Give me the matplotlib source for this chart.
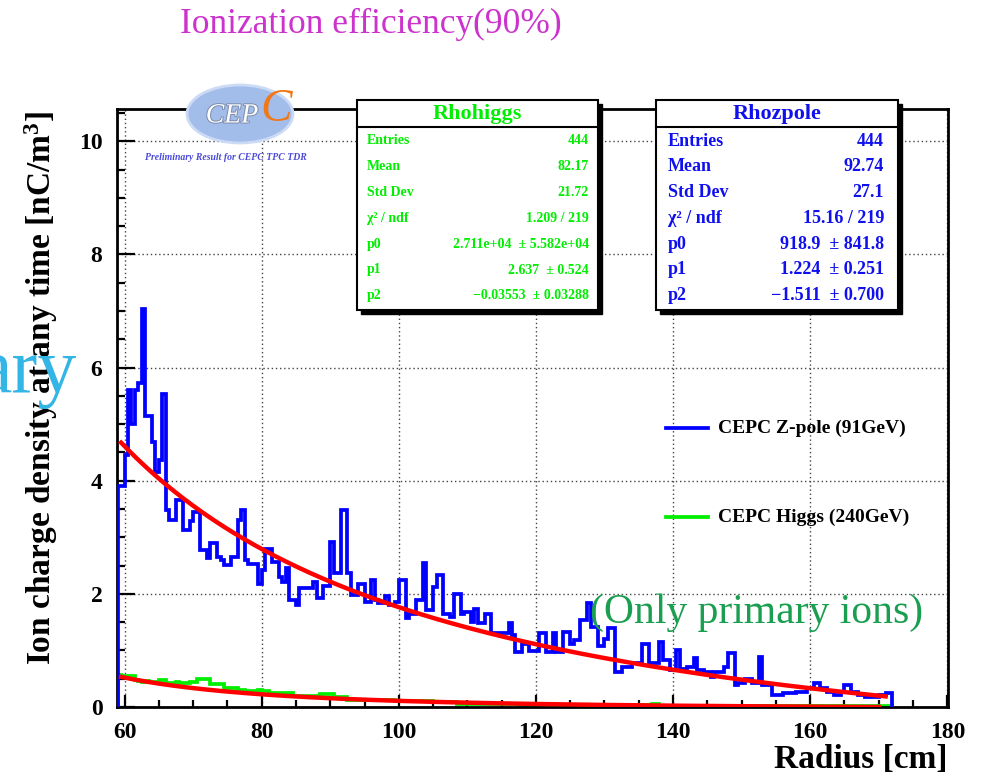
import matplotlib
matplotlib.use('Agg')
import matplotlib.pyplot as plt
from matplotlib.patches import Rectangle, Ellipse
from matplotlib.ticker import MultipleLocator
import matplotlib.patheffects as pe
import numpy as np

plt.rcParams['font.family'] = ['Liberation Serif', 'DejaVu Serif']
plt.rcParams['font.weight'] = 'bold'
plt.rcParams['mathtext.fontset'] = 'custom'
plt.rcParams['mathtext.rm'] = 'Liberation Serif:bold'
plt.rcParams['mathtext.default'] = 'rm'

# histogram binning (cm)
r_lo = 59.0
bin_w = 0.5

# ion charge density per bin [nC/m^3]
zpole = [3.9, 3.9, 4.45, 5.6, 5.0, 5.6, 5.73, 7.04, 5.14, 5.14,
         4.68, 4.16, 4.37, 5.54, 3.48, 3.31, 3.31, 3.66, 3.66, 3.13,
         3.13, 3.28, 3.45, 3.45, 2.77, 2.77, 2.63, 2.90, 2.90, 2.65,
         2.59, 2.51, 2.51, 2.65, 2.65, 3.30, 3.48, 2.59, 2.53, 2.53,
         2.53, 2.18, 2.42, 2.80, 2.80, 2.57, 2.57, 2.30, 2.21, 2.45,
         1.89, 1.89, 1.80, 2.10, 2.10, 2.10, 2.10, 2.21, 1.92, 1.92,
         2.13, 2.13, 2.92, 2.36, 2.36, 3.48, 3.48, 2.36, 1.98, 1.98,
         2.18, 2.18, 1.86, 1.86, 2.24, 1.89, 1.83, 1.83, 1.97, 1.80,
         1.80, 1.86, 2.24, 2.24, 1.57, 1.65, 1.65, 1.89, 1.89, 2.54,
         1.71, 1.71, 2.12, 2.33, 2.33, 1.65, 1.65, 1.59, 2.00, 2.00,
         1.65, 1.68, 1.68, 1.50, 1.74, 1.48, 1.48, 1.65, 1.65, 1.30,
         1.30, 1.30, 1.30, 1.30, 1.48, 1.27, 0.98, 0.98, 1.12, 1.12,
         0.99, 0.99, 0.99, 1.30, 1.30, 0.98, 0.98, 1.30, 0.98, 0.98,
         1.33, 1.33, 1.12, 1.18, 1.18, 1.54, 1.54, 1.83, 1.42, 1.42,
         1.08, 1.08, 1.20, 1.40, 1.40, 0.62, 0.62, 0.71, 0.71, 0.71,
         0.77, 0.77, 0.77, 1.12, 1.12, 0.77, 0.77, 0.77, 1.15, 0.83,
         0.83, 0.65, 0.65, 1.00, 0.68, 0.68, 0.71, 0.71, 0.86, 0.65,
         0.65, 0.62, 0.62, 0.53, 0.62, 0.62, 0.62, 0.71, 0.95, 0.95,
         0.39, 0.42, 0.42, 0.50, 0.50, 0.42, 0.42, 0.89, 0.39, 0.39,
         0.39, 0.21, 0.21, 0.21, 0.24, 0.24, 0.24, 0.24, 0.27, 0.27,
         0.27, 0.33, 0.33, 0.42, 0.42, 0.33, 0.33, 0.27, 0.27, 0.21,
         0.21, 0.27, 0.39, 0.39, 0.27, 0.27, 0.21, 0.21, 0.18, 0.18,
         0.18, 0.18, 0.21, 0.21, 0.24, 0.24]

higgs = [0.57, 0.54, 0.54, 0.54, 0.54, 0.47, 0.46, 0.45, 0.46, 0.44,
         0.45, 0.45, 0.48, 0.48, 0.43, 0.42, 0.43, 0.44, 0.43, 0.42,
         0.43, 0.45, 0.45, 0.49, 0.50, 0.49, 0.49, 0.40, 0.40, 0.41,
         0.40, 0.33, 0.34, 0.33, 0.33, 0.29, 0.30, 0.28, 0.29, 0.29,
         0.28, 0.30, 0.29, 0.28, 0.25, 0.25, 0.25, 0.24, 0.24, 0.24,
         0.24, 0.20, 0.20, 0.20, 0.20, 0.20, 0.20, 0.20, 0.20, 0.23,
         0.23, 0.23, 0.23, 0.18, 0.18, 0.18, 0.18, 0.13, 0.13, 0.13,
         0.13, 0.13, 0.13, 0.12, 0.12, 0.12, 0.12, 0.12, 0.12, 0.12,
         0.12, 0.11, 0.11, 0.11, 0.11, 0.11, 0.11, 0.11, 0.11, 0.11,
         0.11, 0.11, 0.08, 0.08, 0.08, 0.08, 0.08, 0.08, 0.08, 0.05,
         0.05, 0.05, 0.05, 0.05, 0.05, 0.05, 0.05, 0.05, 0.05, 0.05,
         0.05, 0.05, 0.05, 0.05, 0.05, 0.05, 0.05, 0.03, 0.03, 0.03,
         0.03, 0.03, 0.03, 0.03, 0.03, 0.03, 0.03, 0.03, 0.03, 0.03,
         0.03, 0.03, 0.03, 0.03, 0.03, 0.03, 0.03, 0.03, 0.03, 0.03,
         0.03, 0.03, 0.03, 0.03, 0.03, 0.03, 0.03, 0.03, 0.03, 0.03,
         0.03, 0.03, 0.03, 0.03, 0.03, 0.03, 0.05, 0.05, 0.02, 0.02,
         0.02, 0.02, 0.02, 0.02, 0.02, 0.02, 0.02, 0.02, 0.02, 0.02,
         0.02, 0.02, 0.02, 0.02, 0.02, 0.02, 0.02, 0.02, 0.02, 0.02,
         0.02, 0.02, 0.02, 0.02, 0.02, 0.02, 0.02, 0.015, 0.015, 0.015,
         0.015, 0.015, 0.015, 0.015, 0.015, 0.015, 0.015, 0.015, 0.015, 0.015,
         0.015, 0.015, 0.015, 0.015, 0.015, 0.015, 0.015, 0.015, 0.015, 0.015,
         0.015, 0.015, 0.015, 0.015, 0.015, 0.015, 0.015, 0.015, 0.015, 0.015,
         0.015, 0.015, 0.02, 0.02, 0.02, 0.02]

# fit function p0 * r^-p1 + p2, parameters from the stat boxes
zpole_par = [918.9, 1.224, -1.511]
higgs_par = [2.711e4, 2.637, -0.03553]
zpole_fit_range = (59.5, 171.0)
higgs_fit_range = (59.5, 170.0)

stat_names = ['Entries', 'Mean', 'Std Dev', 'χ² / ndf', 'p0', 'p1', 'p2']
higgs_stats = ['444', '82.17', '21.72', '1.209 / 219', '2.711e+04  ± 5.582e+04',
               '2.637  ± 0.524', '−0.03553  ± 0.03288']
zpole_stats = ['444', '92.74', '27.1', '15.16 / 219', '918.9  ± 841.8',
               '1.224  ± 0.251', '−1.511  ± 0.700']

legend_labels = ['CEPC Z-pole (91GeV)', 'CEPC Higgs (240GeV)']

W, H = 981, 774
fig = plt.figure(figsize=(W / 100, H / 100), dpi=100)
ax = fig.add_axes([117 / W, 1 - 707 / H, (948 - 117) / W, (707 - 109) / H])

edges = r_lo + bin_w * np.arange(len(zpole) + 1)
ax.stairs(higgs, edges, baseline=0, color='#00ee00', lw=2.7, zorder=2)
ax.stairs(zpole, edges, baseline=0, color='#0000ff', lw=2.7, zorder=3)


def fitfunc(r, p):
    return p[0] * r ** (-p[1]) + p[2]


for par, rng in [(zpole_par, zpole_fit_range), (higgs_par, higgs_fit_range)]:
    r = np.linspace(rng[0], rng[1], 300)
    ax.plot(r, fitfunc(r, par), color='red', lw=3.2, zorder=4)

ax.set_xlim(58.9, 180.1)
ax.set_ylim(0, 10.57)
ax.xaxis.set_major_locator(MultipleLocator(20))
ax.xaxis.set_minor_locator(MultipleLocator(5))
ax.yaxis.set_major_locator(MultipleLocator(2))
ax.yaxis.set_minor_locator(MultipleLocator(0.5))
ax.grid(which='major', color='#444444', lw=1, linestyle=(0, (1, 2)))
ax.set_axisbelow(True)
ax.tick_params(which='both', direction='in', top=False, right=False, width=1.6, labelsize=17, pad=10.5)
ax.tick_params(axis='x', which='major', length=9)
ax.tick_params(axis='x', which='minor', length=5)
ax.tick_params(axis='y', which='major', length=13)
ax.tick_params(axis='y', which='minor', length=6)
for s in ax.spines.values():
    s.set_linewidth(2)

# overlay in pixel coordinates for boxes, legend and annotations
ov = fig.add_axes([0, 0, 1, 1])
ov.set_xlim(0, W)
ov.set_ylim(H, 0)
ov.axis('off')


def stat_box(x0, x1, title, color, vals, fs, lpad, rpad):
    y0, y1 = 100, 310
    ov.add_patch(Rectangle((x0 + 4, y0 + 4), x1 - x0, y1 - y0, color='black', zorder=5))
    ov.add_patch(Rectangle((x0, y0), x1 - x0, y1 - y0, fc='white', ec='black', lw=1.5, zorder=6))
    ov.plot([x0, x1], [127, 127], color='black', lw=1.5, zorder=7)
    ov.text((x0 + x1) / 2, 114, title, color=color, fontsize=16, ha='center', va='center', zorder=7)
    for i, (n, v) in enumerate(zip(stat_names, vals)):
        y = 141 + i * 25.8
        ov.text(x0 + lpad, y, n, color=color, fontsize=fs, ha='left', va='center', zorder=7)
        ov.text(x1 - rpad, y, v, color=color, fontsize=fs, ha='right', va='center', zorder=7)


stat_box(357, 598, 'Rhohiggs', '#00ee00', higgs_stats, 10, 10, 9)
stat_box(656, 898, 'Rhozpole', '#1010ee', zpole_stats, 13, 12, 14)

# legend
ov.plot([666, 708], [428, 428], color='#0000ff', lw=2.7, zorder=7)
ov.text(718, 428, legend_labels[0], fontsize=14, ha='left', va='center', zorder=7)
ov.plot([666, 708], [517, 517], color='#00ee00', lw=2.7, zorder=7)
ov.text(718, 517, legend_labels[1], fontsize=14, ha='left', va='center', zorder=7)

# CEPC logo
ov.add_patch(Ellipse((240, 114), 106, 58, fc='#a3bdea', ec='#cbdaf5', lw=2, zorder=8))
ov.text(232, 116, 'CEP', fontsize=20, style='italic', weight='normal', color='white',
        ha='center', va='center', zorder=9,
        path_effects=[pe.withStroke(linewidth=1.5, foreground='#7f8fb0')])
ov.text(276, 110, 'C', fontsize=34, style='italic', weight='normal', color='#f07818',
        ha='center', va='center', zorder=9)
ov.text(145, 157, 'Preliminary Result for CEPC TPC TDR', fontsize=7, style='italic',
        color='#4a4ad8', ha='left', va='center', zorder=9)

# axis labels
ov.text(41, 388, r'Ion charge density at any time [nC/m$^{3}$]', rotation=90, fontsize=24,
        ha='center', va='center')
ov.text(948, 768, 'Radius [cm]', fontsize=24, ha='right', va='baseline')

# slide annotations
ov.text(371, 33, 'Ionization efficiency(90%)', fontsize=25.5, weight='normal',
        color='#cc33cc', ha='center', va='baseline')
ov.text(76, 392, 'ary', fontsize=56, weight='normal', color='#33b5e5', ha='right', va='baseline')
ov.text(590, 623, '(Only primary ions)', fontsize=30, weight='normal', color='#1a9e50',
        ha='left', va='baseline')

fig.savefig('out.png', dpi=100)
